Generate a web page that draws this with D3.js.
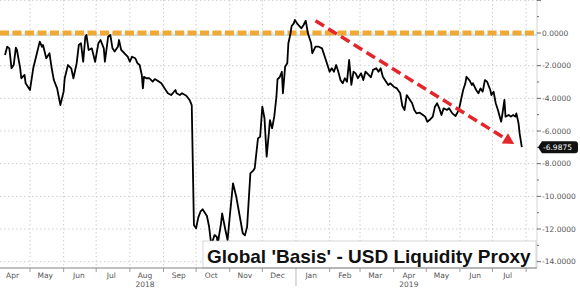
<!DOCTYPE html>
<html>
<head>
<meta charset="utf-8">
<script src="https://cdn.jsdelivr.net/npm/d3@7"></script>
<style>
  body { margin: 0; background: #fff; }
  svg { display: block; }
</style>
</head>
<body>
<svg width="580" height="289"></svg>
<script>
var startDate = new Date(2018, 3, 1)
var days = [7,9,11,13,15,17,18,21,22,25,26,30,33,36,39,41,42,45,48,50,52,55,58,61,62,65,68,70,73,75,77,79,81,82,84,87,90,93,95,98,99,102,104,106,108,111,112,114,117,120,122,124,127,129,131,133,134,135,137,140,143,145,148,151,154,157,160,164,165,168,170,174,177,179,181,183,185,187,189,193,195,197,200,202,203,206,207,210,212,214,217,220,223,226,228,230,233,236,237,240,242,244,246,248,250,251,253,255,257,258,260,262,263,265,267,268,270,271,273,274,276,278,280,282,284,286,289,290,293,296,299,302,304,306,308,310,312,314,316,318,320,322,324,326,328,330,332,335,337,339,342,344,346,349,351,353,355,358,360,362,365,368,371,373,375,377,379,382,384,386,389,392,394,396,398,401,403,405,407,409,411,414,416,419,422,425,427,429,431,432,435,437,438,441,443,445,447,449,451,454,455,457,459,461,464,465,467,468,471,473,475,477,478,480,481,483]
var values = [-1.35,-0.84,-0.94,-2.16,-1.96,-0.90,-1.04,-2.16,-2.77,-2.57,-3.08,-3.49,-2.16,-1.35,-0.53,-0.84,-0.73,-1.55,-1.24,-2.16,-2.88,-3.39,-4.41,-3.59,-2.77,-1.96,-2.16,-2.77,-1.85,-0.73,-0.63,-1.76,-0.23,-0.12,-1.04,-0.94,-1.76,-0.63,-0.43,-0.94,-1.76,-0.23,-0.12,-0.94,-1.14,-0.84,-0.43,-1.04,-1.24,-1.45,-1.76,-1.45,-1.55,-1.85,-1.96,-2.57,-3.39,-2.68,-2.77,-2.77,-2.98,-2.82,-2.94,-3.08,-3.39,-3.69,-3.80,-3.49,-3.69,-3.80,-3.69,-3.84,-4.10,-4.41,-11.75,-11.96,-11.30,-10.94,-10.79,-11.20,-11.86,-12.98,-12.37,-12.47,-12.87,-11.65,-11.04,-12.06,-12.67,-11.25,-9.20,-10.02,-11.14,-12.26,-12.39,-11.86,-8.59,-8.39,-8.28,-6.45,-6.35,-4.51,-5.22,-7.57,-6.14,-5.33,-5.83,-5.12,-3.90,-2.83,-2.71,-2.37,-3.69,-2.06,-1.85,-0.63,-0.02,0.43,0.59,0.80,0.59,0.43,0.29,0.49,0.75,-0.02,-0.63,-1.24,-0.84,-0.84,-0.94,-1.55,-1.96,-2.37,-2.16,-2.37,-1.96,-2.37,-2.88,-3.08,-2.77,-2.98,-1.65,-3.18,-2.37,-2.47,-2.77,-2.47,-2.88,-2.37,-2.57,-2.71,-2.26,-2.16,-2.37,-2.16,-2.68,-2.98,-3.18,-3.08,-3.29,-3.39,-3.69,-4.47,-4.71,-3.80,-4.00,-4.30,-4.71,-4.92,-4.88,-5.02,-5.12,-5.43,-5.33,-5.12,-4.51,-4.30,-4.61,-5.02,-4.61,-4.71,-4.61,-4.92,-5.08,-4.71,-4.10,-3.49,-3.08,-2.68,-2.92,-3.18,-3.08,-3.49,-3.69,-3.39,-3.59,-2.88,-2.98,-3.49,-3.80,-3.59,-4.30,-4.71,-5.43,-5.02,-4.10,-5.12,-5.02,-5.12,-5.02,-5.12,-4.92,-5.53,-6.14,-6.9875]
var lastLabel = "-6.9875"
var yTicks = [0, -2, -4, -6, -8, -10, -12, -14]
var monthLabels = ["Apr","May","Jun","Jul","Aug","Sep","Oct","Nov","Dec","Jan","Feb","Mar","Apr","May","Jun","Jul"]
var yearLabels = [["2018", new Date(2018, 7, 15)], ["2019", new Date(2019, 3, 15)]]
var title = "Global 'Basis' - USD Liquidity Proxy"
// trend arrow: [day offset, value]
var arrowFrom = [293, 0.75]
var arrowTo = [476, -6.8]

var width = 580, height = 289
var plotRight = 537, plotBottom = 268

var data = days.map((d, i) => ({date: d3.timeDay.offset(startDate, d), value: values[i]}))

var x = d3.scaleTime()
  .domain([startDate, new Date(2019, 7, 11)])
  .range([-2.6, plotRight])
var y = d3.scaleLinear()
  .domain([-14, 0])
  .range([261.7, 33])

var svg = d3.select("svg")
  .style("font-family", "'DejaVu Sans', sans-serif")

svg.append("defs").append("clipPath").attr("id", "clip")
  .append("rect").attr("x", 0).attr("y", 0).attr("width", plotRight).attr("height", plotBottom)

var months = d3.timeMonth.range(new Date(2018, 4, 1), new Date(2019, 7, 2))

// grid
var grid = svg.append("g").attr("stroke", "#cfcfcf").attr("stroke-dasharray", "1.5,2.5")
grid.selectAll(".v")
  .data(months)
  .join("line")
  .attr("x1", d => x(d)).attr("x2", d => x(d))
  .attr("y1", 0).attr("y2", plotBottom)
grid.selectAll(".h")
  .data([2].concat(yTicks))
  .join("line")
  .attr("x1", 0).attr("x2", plotRight)
  .attr("y1", d => y(d)).attr("y2", d => y(d))

// zero reference line
svg.append("line")
  .attr("x1", 0).attr("x2", plotRight)
  .attr("y1", y(0) + 2).attr("y2", y(0) + 2)
  .attr("stroke", "#cfe6f2").attr("stroke-width", 2)
svg.append("line")
  .attr("x1", 0).attr("x2", plotRight)
  .attr("y1", y(0)).attr("y2", y(0))
  .attr("stroke", "#f0a934").attr("stroke-width", 5)
  .attr("stroke-dasharray", "9,3.5")

// series
var line = d3.line().x(d => x(d.date)).y(d => y(d.value))
svg.append("path")
  .datum(data)
  .attr("clip-path", "url(#clip)")
  .attr("fill", "none")
  .attr("stroke", "#000")
  .attr("stroke-width", 1.8)
  .attr("stroke-linejoin", "round")
  .attr("d", line)

// red trend arrow
var ax1 = x(d3.timeDay.offset(startDate, arrowFrom[0])), ay1 = y(arrowFrom[1])
var ax2 = x(d3.timeDay.offset(startDate, arrowTo[0])), ay2 = y(arrowTo[1])
var ang = Math.atan2(ay2 - ay1, ax2 - ax1)
var headLen = 11, headW = 6
var bx = ax2 - headLen * Math.cos(ang), by = ay2 - headLen * Math.sin(ang)
svg.append("line")
  .attr("x1", ax1).attr("y1", ay1).attr("x2", bx).attr("y2", by)
  .attr("stroke", "#e4262b").attr("stroke-width", 3.5)
  .attr("stroke-dasharray", "10,5")
svg.append("path")
  .attr("fill", "#e4262b")
  .attr("d", `M${ax2},${ay2}L${bx + headW * Math.sin(ang)},${by - headW * Math.cos(ang)}L${bx - headW * Math.sin(ang)},${by + headW * Math.cos(ang)}Z`)

// title box
var tg = svg.append("g")
tg.append("rect")
  .attr("x", 203).attr("y", 241).attr("width", 333).attr("height", 27)
  .attr("fill", "#fff").attr("stroke", "#bbb").attr("stroke-width", 0.6)
tg.append("text")
  .attr("x", 207).attr("y", 263)
  .attr("font-family", "'Liberation Sans', Arial, sans-serif")
  .attr("font-weight", "bold")
  .attr("font-size", 19)
  .attr("fill", "#111")
  .text(title)

// bottom axis
svg.append("line")
  .attr("x1", 0).attr("x2", plotRight)
  .attr("y1", plotBottom).attr("y2", plotBottom)
  .attr("stroke", "#666").attr("stroke-width", 0.8)
svg.append("g").attr("stroke", "#888")
  .selectAll("line")
  .data(months)
  .join("line")
  .attr("x1", d => x(d)).attr("x2", d => x(d))
  .attr("y1", plotBottom).attr("y2", d => d.getMonth() === 0 ? 286 : plotBottom + 4)
  .attr("stroke-width", d => d.getMonth() === 0 ? 0.6 : 0.8)

var monthMid = d3.timeMonth.range(new Date(2018, 3, 1), new Date(2019, 6, 2)).map(d => new Date(d.getFullYear(), d.getMonth(), 15))
svg.append("g")
  .attr("font-size", 7.5).attr("fill", "#555").attr("text-anchor", "middle")
  .selectAll("text")
  .data(monthMid)
  .join("text")
  .attr("x", d => x(d))
  .attr("y", 278)
  .text((d, i) => monthLabels[i])

svg.append("g")
  .attr("font-size", 7.5).attr("fill", "#555").attr("text-anchor", "middle")
  .selectAll("text")
  .data(yearLabels)
  .join("text")
  .attr("x", d => x(d[1]))
  .attr("y", 287)
  .text(d => d[0])

// right axis
svg.append("line")
  .attr("x1", plotRight).attr("x2", plotRight)
  .attr("y1", 0).attr("y2", plotBottom)
  .attr("stroke", "#bbb").attr("stroke-width", 0.6)
var minor = d3.range(2, -14.5, -1)
svg.append("g").attr("stroke", "#444")
  .selectAll("line")
  .data(minor)
  .join("line")
  .attr("x1", plotRight).attr("x2", d => d % 2 === 0 ? plotRight + 4 : plotRight + 2)
  .attr("y1", d => y(d)).attr("y2", d => y(d))
  .attr("stroke-width", 0.8)
svg.append("g")
  .attr("font-size", 7.5).attr("fill", "#555")
  .selectAll("text")
  .data(yTicks)
  .join("text")
  .attr("x", plotRight + 5)
  .attr("y", d => y(d) + 2.7)
  .text(d => d3.format(".4f")(d).replace("−", "-"))

// last value tag
var ly = y(values[values.length - 1])
svg.append("path")
  .attr("fill", "#111")
  .attr("d", `M${plotRight + 1},${ly}L${plotRight + 5},${ly - 6}H${575}Q${578},${ly - 6} ${578},${ly - 3}V${ly + 3}Q${578},${ly + 6} ${575},${ly + 6}H${plotRight + 5}Z`)
svg.append("text")
  .attr("x", plotRight + 6).attr("y", ly + 2.7)
  .attr("font-size", 7.5).attr("fill", "#fff")
  .text(lastLabel)
</script>
</body>
</html>
